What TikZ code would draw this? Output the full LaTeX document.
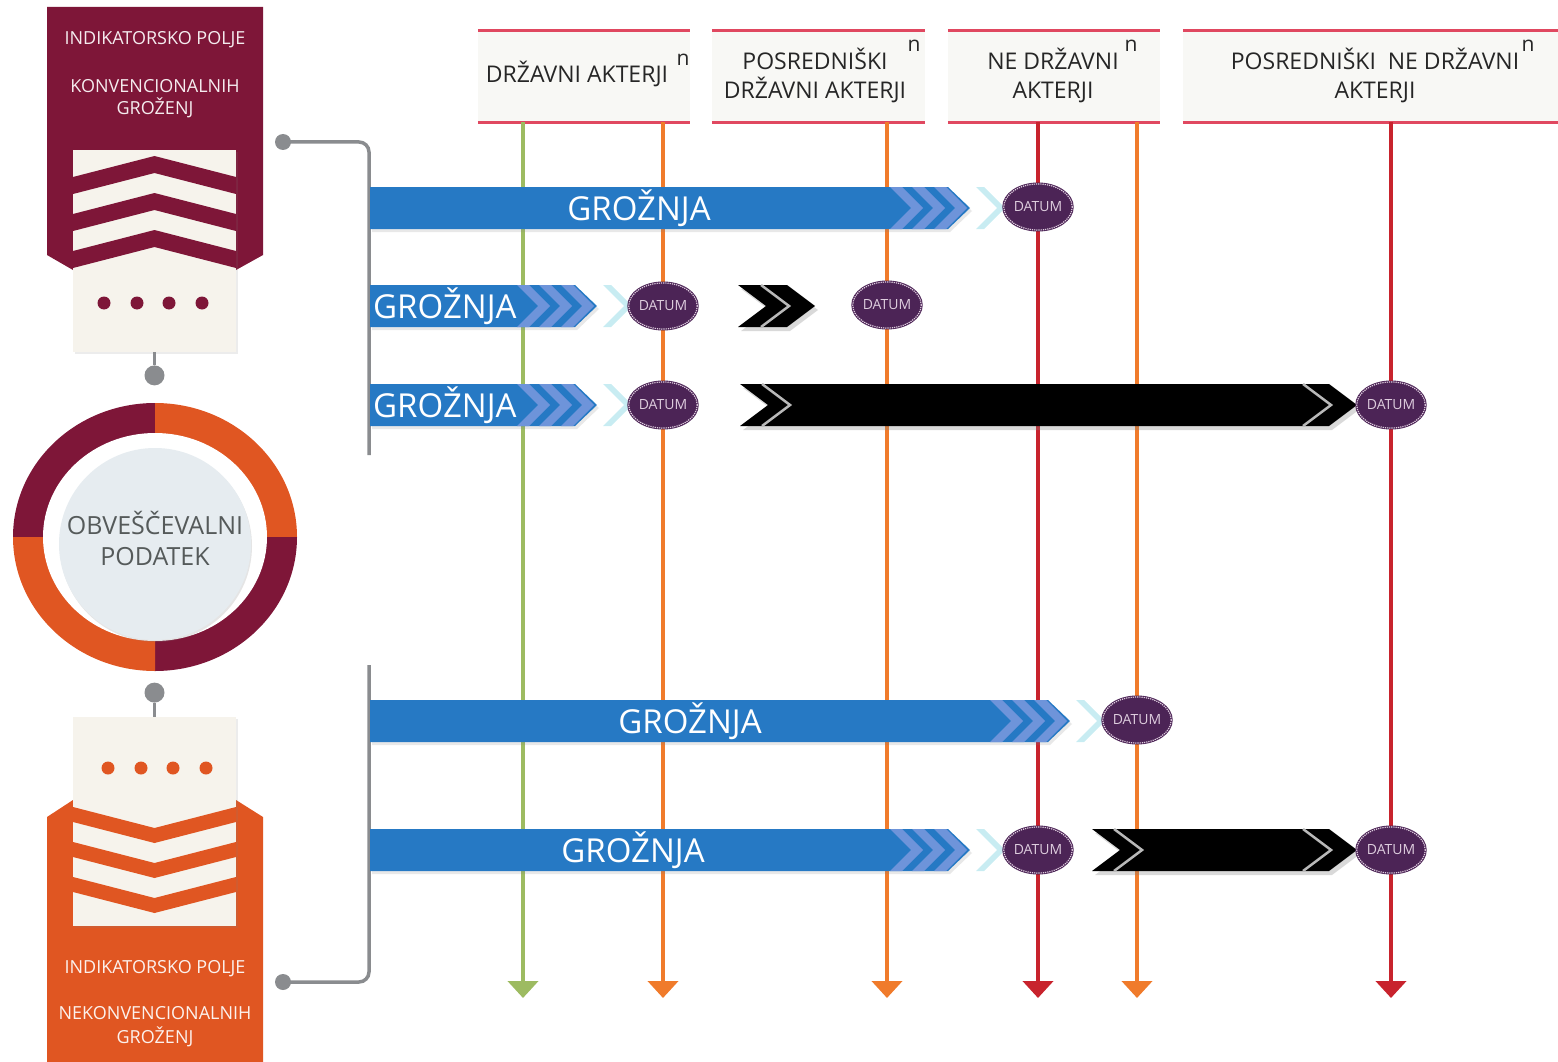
\documentclass[tikz,border=0pt]{standalone}
\usepackage{fontspec}
\setmainfont{Open Sans}
\usetikzlibrary{positioning, arrows.meta, shapes.geometric, shadows}

\definecolor{bordeaux}{RGB}{126,22,56}
\definecolor{rust}{RGB}{224,86,34}
\definecolor{paper}{RGB}{246,243,236}
\definecolor{knobgray}{RGB}{138,140,143}
\definecolor{hdrfill}{RGB}{248,248,245}
\definecolor{hdrrule}{RGB}{224,72,96}
\definecolor{actgreen}{RGB}{157,187,97}
\definecolor{actorange}{RGB}{240,123,43}
\definecolor{actred}{RGB}{200,35,45}
\definecolor{threatblue}{RGB}{38,121,196}
\definecolor{chevblue}{RGB}{110,148,218}
\definecolor{chevfade}{RGB}{200,236,242}
\definecolor{datumpurple}{RGB}{76,36,86}
\definecolor{datumdots}{RGB}{222,205,222}
\definecolor{intelfill}{RGB}{230,236,240}
\definecolor{inteltext}{RGB}{85,90,90}

\tikzset{
  hdrbox/.style={fill=hdrfill, minimum width=#1, minimum height=91pt, inner sep=0pt},
  hdrline/.style={draw=hdrrule, line width=3pt},
  hdrtext/.style={font=\fontsize{23}{29}\selectfont, text=black!85, inner sep=0pt},
  hdrsup/.style={font=\fontsize{21}{21}\selectfont, text=black!85, inner sep=0pt},
  bannertext/.style={font=\fontsize{18}{22}\selectfont, inner sep=0pt},
  inteltxt/.style={font=\fontsize{25}{31}\selectfont, text=inteltext, inner sep=0pt},
  panelbox/.style={fill=paper, minimum width=163pt, inner sep=0pt,
    drop shadow={opacity=0.15, shadow xshift=2pt, shadow yshift=-2pt}},
  knob/.style={circle, fill=knobgray, minimum size=#1, inner sep=0pt},
  knob/.default=20pt,
  stem/.style={draw=knobgray, line width=3.5pt},
  actor/.style={line width=4.5pt, -{Triangle[width=30pt, length=17pt]}},
  threat/.style={text=white, font=\fontsize{33}{33}\selectfont, inner sep=0pt},
  datum/.style={ellipse, fill=datumpurple, minimum width=60pt, minimum height=46pt,
    inner sep=0pt, text=datumdots, font=\fontsize{14}{14}\selectfont,
    preaction={draw=datumpurple, line width=3pt, solid},
    draw=datumdots, densely dotted, line width=1.2pt},
  chevgap/.style={draw=gray!55, line width=2.5pt},
}

% blue threat bar: #1 = y of the middle, #2 = x of the tip
\newcommand{\bluebar}[2]{%
  \fill [threatblue, drop shadow={opacity=0.18, shadow xshift=2pt, shadow yshift=-3pt}]
    (370,#1-21) -- (#2-22,#1-21) -- (#2,#1) -- (#2-22,#1+21) -- (370,#1+21) -- cycle;
  \foreach \d in {80,58,36}
    \fill [chevblue] (#2-\d,#1-21) -- ++(12,0) -- ++(21,21) -- ++(-21,21) -- ++(-12,0) -- ++(21,-21) -- cycle;
  \fill [chevfade] (#2+6,#1-21) -- ++(8,0) -- ++(21,21) -- ++(-21,21) -- ++(-8,0) -- ++(21,-21) -- cycle;
}

% black bar: #1 = y of the middle, #2 = x of the notch, #3 = x of the tip
\newcommand{\blackbar}[3]{%
  \fill [black, drop shadow={opacity=0.3, shadow xshift=3pt, shadow yshift=-4pt}]
    (#2,#1-21) -- (#3-28,#1-21) -- (#3,#1) -- (#3-28,#1+21) -- (#2,#1+21) -- (#2+28,#1) -- cycle;
  \draw [chevgap] (#3-54,#1-21) -- (#3-26,#1) -- (#3-54,#1+21);
}

\begin{document}
\begin{tikzpicture}[x=1pt, y=-1pt]
  \useasboundingbox (0,0) rectangle (1558,1062);

  % actor headers
  \node (hdrA) [hdrbox=212pt] at (584,76.5) {};
  \node (hdrB) [hdrbox=213pt] at (818.5,76.5) {};
  \node (hdrC) [hdrbox=212pt] at (1054,76.5) {};
  \node (hdrD) [hdrbox=375pt] at (1370.5,76.5) {};
  \foreach \h in {hdrA, hdrB, hdrC, hdrD} {
    \draw [hdrline] (\h.north west) -- (\h.north east);
    \draw [hdrline] (\h.south west) -- (\h.south east);
  }
  \node (hdrAtxt) [hdrtext, anchor=base] at (577,83) {DRŽAVNI AKTERJI};
  \node (hdrAn) [hdrsup] at (683,60) {n};
  \node (hdrBtxt) [hdrtext, anchor=base] at (815,70) {POSREDNIŠKI};
  \node (hdrBtxt2) [hdrtext, anchor=base] at (815,99) {DRŽAVNI AKTERJI};
  \node (hdrBn) [hdrsup] at (914,46) {n};
  \node (hdrCtxt) [hdrtext, anchor=base] at (1053,70) {NE DRŽAVNI};
  \node (hdrCtxt2) [hdrtext, anchor=base] at (1053,99) {AKTERJI};
  \node (hdrCn) [hdrsup] at (1131,46) {n};
  \node (hdrDtxt) [hdrtext, anchor=base] at (1375,70) {POSREDNIŠKI\ \ NE DRŽAVNI};
  \node (hdrDtxt2) [hdrtext, anchor=base] at (1375,99) {AKTERJI};
  \node (hdrDn) [hdrsup] at (1528,46) {n};

  % actor lines
  \foreach \x/\c/\n in {523/actgreen/A, 663/actorange/B, 887/actorange/C, 1038/actred/D, 1137/actorange/E, 1391/actred/F} {
    \coordinate (act\n-top) at (\x,122);
    \coordinate (act\n-end) at (\x,998);
    \draw [actor, color=\c] (act\n-top) -- (act\n-end);
  }

  % conventional field
  \fill [bordeaux] (47,7) -- (263,7) -- (263,255) -- (236,270) -- (73,270) -- (47,255) -- cycle;
  \node (toppanel) [panelbox, minimum height=202pt] at (154.5,251) {};
  \foreach \p in {156,193,230}
    \fill [bordeaux] (73,\p+21) -- (154.5,\p) -- (236,\p+21) -- (236,\p+38) -- (154.5,\p+17) -- (73,\p+38) -- cycle;
  \foreach \x in {104,137,169,202}
    \fill [bordeaux] (\x,303) circle (6.5pt);
  \node (topline1) [bannertext, text=white!92!bordeaux, anchor=base] at (155,45) {INDIKATORSKO POLJE};
  \node (topline2) [bannertext, text=white!92!bordeaux, anchor=base] at (155,93) {KONVENCIONALNIH};
  \node (topline3) [bannertext, text=white!92!bordeaux, anchor=base] at (155,115) {GROŽENJ};
  \node (topknob) [knob=20pt, below=13pt of toppanel.south] {};
  \draw [stem] (toppanel.south) -- (topknob);

  % intelligence datum
  \fill [bordeaux] (155,537) -- +(90:142pt and 134pt) arc [start angle=90, end angle=180, x radius=142pt, y radius=134pt] -- cycle;
  \fill [rust] (155,537) -- +(0:142pt and 134pt) arc [start angle=0, end angle=90, x radius=142pt, y radius=134pt] -- cycle;
  \fill [bordeaux] (155,537) -- +(270:142pt and 134pt) arc [start angle=270, end angle=360, x radius=142pt, y radius=134pt] -- cycle;
  \fill [rust] (155,537) -- +(180:142pt and 134pt) arc [start angle=180, end angle=270, x radius=142pt, y radius=134pt] -- cycle;
  \fill [white] (155,537) ellipse [x radius=112pt, y radius=104pt];
  \node (intel) [circle, fill=intelfill, minimum size=192pt, inner sep=0pt,
    drop shadow={opacity=0.2, shadow xshift=1pt, shadow yshift=-2pt}] at (155,544) {};
  \node (intel1) [inteltxt, anchor=base] at (155,534) {OBVEŠČEVALNI};
  \node (intel2) [inteltxt, anchor=base] at (155,565) {PODATEK};

  % unconventional field
  \fill [rust] (47,817) -- (73,800) -- (236,800) -- (263,817) -- (263,1062) -- (47,1062) -- cycle;
  \node (botpanel) [panelbox, minimum height=209pt] at (154.5,821.5) {};
  \foreach \e in {807,842,877}
    \fill [rust] (73,\e) -- (154.5,\e+21) -- (236,\e) -- (236,\e+15) -- (154.5,\e+36) -- (73,\e+15) -- cycle;
  \foreach \x in {108,141,173,206}
    \fill [rust] (\x,768) circle (6.5pt);
  \node (botline1) [bannertext, text=white!92!rust, anchor=base] at (155,973) {INDIKATORSKO POLJE};
  \node (botline2) [bannertext, text=white!92!rust, anchor=base] at (155,1019.5) {NEKONVENCIONALNIH};
  \node (botline3) [bannertext, text=white!92!rust, anchor=base] at (155,1043) {GROŽENJ};
  \node (botknob) [knob=20pt, above=14pt of botpanel.north] {};
  \draw [stem] (botknob) -- (botpanel.north);

  % brackets to the threats
  \node (topdot) [knob=16pt] at (283,142) {};
  \coordinate (topfoot) at (369,455);
  \draw [stem, rounded corners=10pt] (topdot.center) -| (topfoot);
  \node (botdot) [knob=16pt] at (283,982) {};
  \coordinate (bothead) at (369,665);
  \draw [stem, rounded corners=10pt] (botdot.center) -| (bothead);

  % threats
  \bluebar{208}{970}
  \node (threatA) [threat, anchor=base] at (639,220) {GROŽNJA};
  \bluebar{306}{597}
  \node (threatB) [threat, anchor=base west] at (373,318) {GROŽNJA};
  \bluebar{405}{597}
  \node (threatC) [threat, anchor=base west] at (373,417) {GROŽNJA};
  \bluebar{721}{1070}
  \node (threatD) [threat, anchor=base] at (690,733) {GROŽNJA};
  \bluebar{850}{970}
  \node (threatE) [threat, anchor=base] at (633,862) {GROŽNJA};

  \blackbar{306}{738}{815}
  \blackbar{405}{740}{1357}
  \draw [chevgap] (762,384) -- (790,405) -- (762,426);
  \blackbar{850}{1092}{1357}
  \draw [chevgap] (1114,829) -- (1142,850) -- (1114,871);

  % dates
  \node (datumA) [datum] at (1038,207) {DATUM};
  \node (datumB) [datum] at (663,306) {DATUM};
  \node (datumC) [datum] at (887,305) {DATUM};
  \node (datumD) [datum] at (663,405) {DATUM};
  \node (datumE) [datum] at (1391,405) {DATUM};
  \node (datumF) [datum] at (1137,720) {DATUM};
  \node (datumG) [datum] at (1038,850) {DATUM};
  \node (datumH) [datum] at (1391,850) {DATUM};
\end{tikzpicture}
\end{document}
